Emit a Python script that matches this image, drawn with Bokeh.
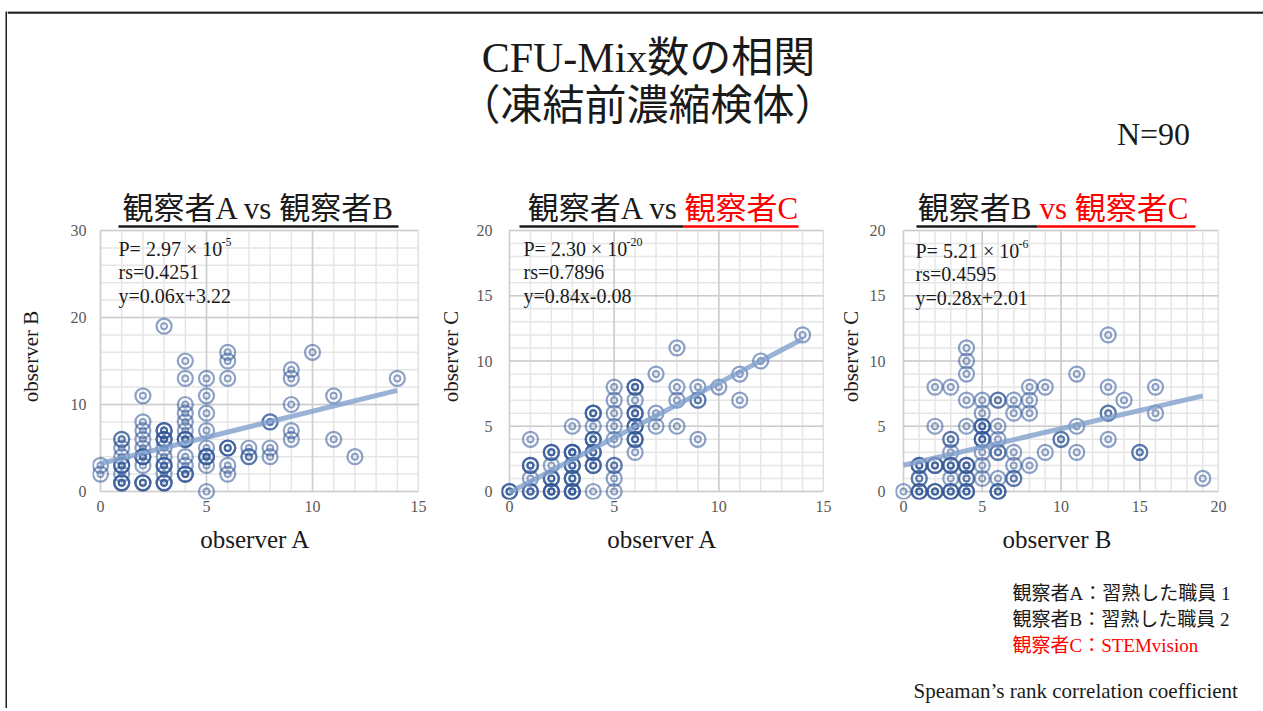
import math
from bokeh.plotting import figure
from bokeh.layouts import row, column
from bokeh.models import Range1d, Label, Spacer, FixedTicker
from bokeh.embed import file_html
from bokeh.resources import INLINE
from bokeh.core.properties import value

# ---------------- data ----------------
# observer A vs observer B
ab_a = [0, 0,
        1, 1, 1, 1, 1, 1, 1, 1, 1, 1, 1,
        2, 2, 2, 2, 2, 2, 2, 2, 2, 2, 2, 2,
        3, 3, 3, 3, 3, 3, 3, 3, 3, 3, 3, 3, 3, 3, 3, 3,
        4, 4, 4, 4, 4, 4, 4, 4, 4, 4, 4, 4, 4, 4,
        5, 5, 5, 5, 5, 5, 5, 5, 5, 5,
        6, 6, 6, 6, 6, 6, 6, 6,
        7, 7, 7,
        8, 8, 8, 8,
        9, 9, 9, 9, 9,
        10,
        11, 11,
        12,
        14]
ab_b = [3, 2,
        6, 6, 5, 4, 3, 3, 3, 2, 1, 1, 1,
        11, 8, 7, 6, 5, 4, 4, 4, 3, 1, 1, 1,
        19, 7, 7, 7, 6, 6, 6, 5, 4, 3, 3, 3, 2, 1, 1, 1,
        15, 13, 10, 9, 8, 7, 6, 6, 6, 4, 3, 2, 2, 2,
        13, 11, 9, 7, 5, 4, 4, 4, 3, 0,
        16, 15, 13, 5, 5, 5, 3, 2,
        5, 4, 4,
        8, 8, 5, 4,
        14, 13, 10, 7, 6,
        16,
        11, 6,
        4,
        13]

# observer A vs observer C
ac_a = [0, 0, 0,
        1, 1, 1, 1, 1, 1, 1, 1,
        2, 2, 2, 2, 2, 2, 2, 2, 2, 2, 2,
        3, 3, 3, 3, 3, 3, 3, 3, 3, 3, 3, 3, 3, 3, 3,
        4, 4, 4, 4, 4, 4, 4, 4, 4, 4, 4, 4, 4, 4,
        5, 5, 5, 5, 5, 5, 5, 5, 5,
        6, 6, 6, 6, 6, 6, 6, 6, 6, 6, 6, 6, 6, 6,
        7, 7, 7,
        8, 8, 8, 8,
        9, 9, 9, 9,
        10,
        11, 11,
        12,
        14]
ac_c = [0, 0, 0,
        4, 2, 2, 2, 1, 0, 0, 0,
        3, 3, 3, 2, 1, 1, 1, 0, 0, 0, 0,
        5, 3, 3, 3, 3, 2, 2, 2, 1, 1, 1, 0, 0, 0, 0,
        6, 6, 6, 5, 4, 4, 4, 3, 3, 3, 2, 2, 2, 0,
        8, 7, 6, 5, 4, 2, 2, 1, 0,
        8, 8, 8, 7, 6, 6, 6, 5, 5, 5, 4, 4, 4, 3,
        9, 6, 5,
        11, 8, 7, 5,
        8, 7, 7, 4,
        8,
        9, 7,
        10,
        12]

# observer B vs observer C
bc_b = [0,
        1, 1, 1, 1, 1, 1, 1, 1,
        2, 2, 2, 2, 2, 2, 2, 2,
        3, 3, 3, 3, 3, 3, 3, 3, 3, 3, 3,
        4, 4, 4, 4, 4, 4, 4, 4, 4, 4, 4, 4, 4,
        5, 5, 5, 5, 5, 5, 5, 5, 5, 5, 5,
        6, 6, 6, 6, 6, 6, 6, 6, 6, 6,
        7, 7, 7, 7, 7, 7,
        8, 8, 8, 8,
        9, 9,
        10, 10,
        11, 11, 11,
        13, 13, 13, 13, 13,
        14,
        15, 15,
        16, 16,
        19]
bc_c = [0,
        2, 2, 2, 1, 1, 0, 0, 0,
        8, 5, 2, 2, 2, 0, 0, 0,
        8, 4, 4, 3, 2, 2, 2, 1, 0, 0, 0,
        11, 10, 9, 7, 5, 2, 2, 2, 1, 1, 0, 0, 0,
        7, 6, 5, 5, 5, 4, 4, 4, 3, 2, 1,
        7, 7, 5, 4, 3, 3, 1, 0, 0, 0,
        7, 6, 3, 2, 1, 1,
        8, 7, 6, 2,
        8, 3,
        4, 4,
        9, 5, 3,
        12, 8, 6, 6, 4,
        7,
        3, 3,
        8, 6,
        1]

title_black = ["観察者A vs 観察者B", "観察者A vs", "観察者B"]
title_red = ["", "観察者C", "vs 観察者C"]
x_labels = ["observer A", "observer A", "observer B"]
y_labels = ["observer B", "observer C", "observer C"]
x_max = [15, 15, 20]
y_max = [30, 20, 20]
x_major = [5, 5, 5]
y_major = [10, 5, 5]
x_minor = [1, 1, 1]
y_minor = [2, 1, 1]
p_mantissa = ["P= 2.97 × 10", "P= 2.30 × 10", "P= 5.21 × 10"]
p_exponent = ["-5", "-20", "-6"]
rs_texts = ["rs=0.4251", "rs=0.7896", "rs=0.4595"]
eq_texts = ["y=0.06x+3.22", "y=0.84x-0.08", "y=0.28x+2.01"]
fit_slope = [0.60, 0.84, 0.28]
fit_intercept = [3.22, -0.08, 2.01]
main_title = ["CFU-Mix数の相関", "（凍結前濃縮検体）"]
n_text = "N=90"
legend_lines = ["観察者A：習熟した職員 1", "観察者B：習熟した職員 2", "観察者C：STEMvision"]
legend_colors = ["#1a1a1a", "#1a1a1a", "#ff0000"]
footnote = "Speaman’s rank correlation coefficient"

# ---------------- style / layout ----------------
FONT = "Liberation Serif, Noto Sans CJK JP"
MARK = "#2F5597"
FIT = "#7F9FCC"
RED = "#ff0000"
INK = "#1a1a1a"
BAR = "#1e1e1e"

LEFT_GAP, BAR_W, TOP_GAP = 5, 2, 11
PAGE_X0 = LEFT_GAP + BAR_W          # page x where the content starts
HDR_Y0, HDR_H = TOP_GAP, 169
ROW_Y0, ROW_H = HDR_Y0 + HDR_H, 380
FOOT_Y0, FOOT_H = ROW_Y0 + ROW_H, 148
HDR_W = 1256
ylab_w = [45, 35, 31]               # strips holding the vertical axis titles
fig_w = [383, 365, 389]
CONTENT_W = sum(fig_w) + sum(ylab_w)
mb_left = [40, 31, 29]
mb_right = [17, 12, 37]
MT = 5
DATA_TOP, DATA_BOT = 230, 491       # page y of the data top / zero line
PAD = 8
MB = ROW_H - (DATA_BOT + PAD - ROW_Y0)
y_tick_standoff = [6, 9, 10]
ylab_pos = [(30, 387), (450, 387), (850, 387)]   # anchor (rotated text renders ~26px higher)
stat_px = [118, 523, 915]
stat_py = [248, 248, 250]
STAT_GAP = 23.5
SUP_DX, SUP_DY = 103, -7
TITLE_Y, ULINE_Y = 208, 226
title_black_x = [258, 678, 1031]     # centre (panel 1) or right edge
title_red_x = [None, 684, 1039]
uline_black = [(118, 398), (519, 683), (916, 1037)]
uline_red = [None, (683, 798), (1037, 1195)]

datasets = [(ab_a, ab_b), (ac_a, ac_c), (bc_b, bc_c)]


def ylab_strip(i, page_left):
    w = ylab_w[i]
    s = figure(width=w, height=ROW_H, x_range=Range1d(0, w), y_range=Range1d(ROW_H, 0),
               output_backend="svg", toolbar_location=None, min_border=0,
               x_axis_type=None, y_axis_type=None, outline_line_color=None)
    s.xgrid.visible = False
    s.ygrid.visible = False
    s.text(x=[ylab_pos[i][0] - page_left], y=[ylab_pos[i][1] - ROW_Y0], text=[y_labels[i]],
           text_font=value(FONT), text_font_size="21px", text_color=INK,
           text_align="center", text_baseline="middle", angle=math.pi / 2)
    return s


def panel(i, page_left):
    xs, ys = datasets[i]
    W = fig_w[i]
    xm, ym = x_max[i], y_max[i]
    f_left = page_left + mb_left[i]
    f_right = page_left + W - mb_right[i]
    d_left = f_left + PAD
    f_top = ROW_Y0 + MT
    f_bot = DATA_BOT + PAD
    xppu = (f_right - d_left) / xm
    yppu = (DATA_BOT - DATA_TOP) / ym
    x0 = -PAD / xppu
    y0 = -(f_bot - DATA_BOT) / yppu
    y1 = ym + (DATA_TOP - f_top) / yppu

    def dx(px):
        return (px - d_left) / xppu

    def dy(py):
        return (DATA_BOT - py) / yppu

    p = figure(width=W, height=ROW_H, x_range=Range1d(x0, xm), y_range=Range1d(y0, y1),
               output_backend="svg", toolbar_location=None,
               min_border_left=mb_left[i], min_border_right=mb_right[i],
               min_border_top=MT, min_border_bottom=MB,
               outline_line_color=None, background_fill_color="white",
               border_fill_color="white")
    p.xgrid.visible = False
    p.ygrid.visible = False

    gx_min = list(range(0, xm + 1, x_minor[i]))
    gy_min = list(range(0, ym + 1, y_minor[i]))
    gx_maj = list(range(0, xm + 1, x_major[i]))
    gy_maj = list(range(0, ym + 1, y_major[i]))
    p.segment(x0=gx_min, y0=[0] * len(gx_min), x1=gx_min, y1=[ym] * len(gx_min),
              line_color="#e6e6e6", line_width=1.5)
    p.segment(x0=[0] * len(gy_min), y0=gy_min, x1=[xm] * len(gy_min), y1=gy_min,
              line_color="#e6e6e6", line_width=1.5)
    p.segment(x0=gx_maj, y0=[0] * len(gx_maj), x1=gx_maj, y1=[ym] * len(gx_maj),
              line_color="#cdcdcd", line_width=1.5)
    p.segment(x0=[0] * len(gy_maj), y0=gy_maj, x1=[xm] * len(gy_maj), y1=gy_maj,
              line_color="#cdcdcd", line_width=1.5)

    p.scatter(xs, ys, marker="circle", size=15, fill_color=None,
              line_color=MARK, line_alpha=0.55, line_width=2.2)
    p.scatter(xs, ys, marker="circle", size=6, fill_color=None,
              line_color=MARK, line_alpha=0.55, line_width=2)

    fx = [min(xs), max(xs)]
    fy = [fit_intercept[i] + fit_slope[i] * v for v in fx]
    p.line(fx, fy, line_color=FIT, line_width=5, line_alpha=0.8)

    for ax in (p.xaxis, p.yaxis):
        ax.axis_line_color = None
        ax.major_tick_line_color = None
        ax.minor_tick_line_color = None
        ax.major_tick_out = 0
        ax.major_tick_in = 0
        ax.minor_tick_out = 0
        ax.major_label_text_font = FONT
        ax.major_label_text_font_size = "16px"
        ax.major_label_text_color = "#595959"
    p.xaxis.ticker = FixedTicker(ticks=gx_maj)
    p.yaxis.ticker = FixedTicker(ticks=gy_maj)
    p.xaxis.major_label_standoff = 1
    p.yaxis.major_label_standoff = y_tick_standoff[i]
    p.xaxis.axis_label = x_labels[i]
    p.xaxis.axis_label_text_font = FONT
    p.xaxis.axis_label_text_font_size = "25px"
    p.xaxis.axis_label_text_font_style = "normal"
    p.xaxis.axis_label_text_color = INK
    p.xaxis.axis_label_standoff = 11

    # statistics text
    lines = [p_mantissa[i], rs_texts[i], eq_texts[i]]
    for k, t in enumerate(lines):
        p.add_layout(Label(x=dx(stat_px[i]), y=dy(stat_py[i] + k * STAT_GAP), text=t,
                           text_font=FONT, text_font_size="20px", text_color=INK,
                           text_align="left", text_baseline="middle"))
    p.add_layout(Label(x=dx(stat_px[i] + SUP_DX), y=dy(stat_py[i] + SUP_DY), text=p_exponent[i],
                       text_font=FONT, text_font_size="12px", text_color=INK,
                       text_align="left", text_baseline="middle"))

    # panel title with underline
    if title_red[i]:
        p.text(x=[dx(title_black_x[i])], y=[dy(TITLE_Y)], text=[title_black[i]],
               text_font=value(FONT), text_font_size="31px", text_color=INK,
               text_align="right", text_baseline="middle")
        p.text(x=[dx(title_red_x[i])], y=[dy(TITLE_Y)], text=[title_red[i]],
               text_font=value(FONT), text_font_size="31px", text_color=RED,
               text_align="left", text_baseline="middle")
        a, b = uline_red[i]
        p.segment(x0=[dx(a)], y0=[dy(ULINE_Y)], x1=[dx(b)], y1=[dy(ULINE_Y)],
                  line_color=RED, line_width=2.5)
    else:
        p.text(x=[dx(title_black_x[i])], y=[dy(TITLE_Y)], text=[title_black[i]],
               text_font=value(FONT), text_font_size="31px", text_color=INK,
               text_align="center", text_baseline="middle")
    a, b = uline_black[i]
    p.segment(x0=[dx(a)], y0=[dy(ULINE_Y)], x1=[dx(b)], y1=[dy(ULINE_Y)],
              line_color=INK, line_width=2.5)
    return p


row_children = []
left = PAGE_X0
for i in range(3):
    row_children.append(ylab_strip(i, left))
    left += ylab_w[i]
    row_children.append(panel(i, left))
    left += fig_w[i]

# ---------------- header ----------------
hdr = figure(width=HDR_W, height=HDR_H, x_range=Range1d(0, HDR_W), y_range=Range1d(HDR_H, 0),
             output_backend="svg", toolbar_location=None, min_border=0,
             x_axis_type=None, y_axis_type=None, outline_line_color=None)
hdr.xgrid.visible = False
hdr.ygrid.visible = False


def hx(px):
    return px - PAGE_X0


def hy(py):
    return py - HDR_Y0


hdr.segment(x0=[0], y0=[1], x1=[HDR_W], y1=[1], line_color=BAR, line_width=2.5)
hdr.text(x=[hx(648), hx(647)], y=[hy(57), hy(105)], text=main_title,
         text_font=value(FONT), text_font_size="42px", text_color=INK,
         text_align="center", text_baseline="middle")
hdr.text(x=[hx(1153)], y=[hy(133)], text=[n_text], text_font=value(FONT),
         text_font_size="32px", text_color=INK, text_align="center", text_baseline="middle")

# ---------------- footer ----------------
ftr = figure(width=CONTENT_W, height=FOOT_H, x_range=Range1d(0, CONTENT_W), y_range=Range1d(FOOT_H, 0),
             output_backend="svg", toolbar_location=None, min_border=0,
             x_axis_type=None, y_axis_type=None, outline_line_color=None)
ftr.xgrid.visible = False
ftr.ygrid.visible = False
ftr.text(x=[1012 - PAGE_X0] * 3, y=[593 - FOOT_Y0, 619 - FOOT_Y0, 645 - FOOT_Y0], text=legend_lines,
         text_color=legend_colors, text_font=value(FONT), text_font_size="19px",
         text_align="left", text_baseline="middle")
ftr.text(x=[913 - PAGE_X0], y=[690 - FOOT_Y0], text=[footnote], text_font=value(FONT),
         text_font_size="21px", text_color=INK, text_align="left", text_baseline="middle")

# ---------------- left frame bar ----------------
leftbar = figure(width=BAR_W, height=HDR_H + ROW_H + FOOT_H, output_backend="svg",
                 toolbar_location=None, min_border=0, x_axis_type=None, y_axis_type=None,
                 outline_line_color=None, background_fill_color=BAR, border_fill_color=BAR)

layout = column(Spacer(width=PAGE_X0 + HDR_W, height=TOP_GAP),
                row(Spacer(width=LEFT_GAP, height=HDR_H + ROW_H + FOOT_H), leftbar,
                    column(hdr, row(*row_children), ftr)))

open("out.html", "w").write(file_html(layout, INLINE))
